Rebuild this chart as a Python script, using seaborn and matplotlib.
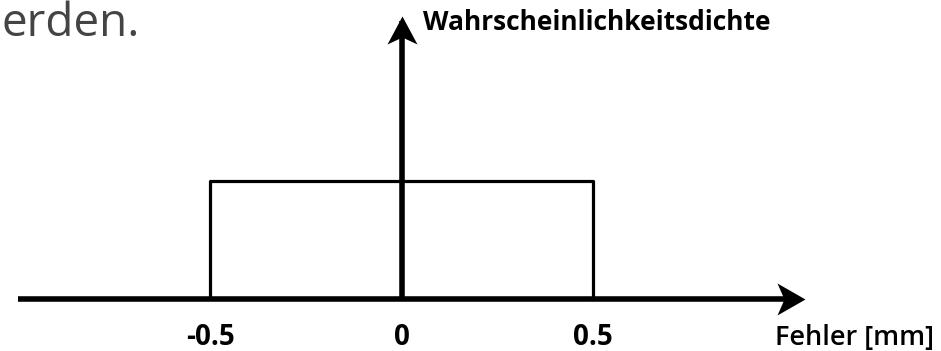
import matplotlib
matplotlib.use("Agg")
import matplotlib.pyplot as plt
import seaborn as sns
import pandas as pd
from matplotlib.path import Path

# Uniform density of the measurement error on [-0.5, 0.5] mm
edges = [-0.5, 0.5]
density = 1.0
tick_values = [-0.5, 0.0, 0.5]
tick_labels = ["-0.5", "0", "0.5"]
x_label = "Fehler [mm]"
y_label = "Wahrscheinlichkeitsdichte"
header_text = "erden."

sns.set_theme(style="white")
plt.rcParams["font.family"] = ["Open Sans", "DejaVu Sans"]

fig = plt.figure(figsize=(9.41, 3.51), dpi=100)
ax = fig.add_axes([0, 0, 1, 1])
ax.set_xlim(-1.0483, 1.4086)
ax.set_ylim(-0.4407, 2.534)
ax.axis("off")

# rectangle outline of the density function
rect = pd.DataFrame({
    "x": [edges[0], edges[0], edges[1], edges[1]],
    "y": [0, density, density, 0],
})
sns.lineplot(data=rect, x="x", y="y", sort=False, estimator=None,
             color="black", lw=2.3, ax=ax)

# coordinate axes with notched arrow heads
axis_lw = 4.0
ax.plot([-1.0, 1.02], [0, 0], color="black", lw=axis_lw,
        solid_capstyle="butt", zorder=3)
ax.plot([0, 0], [0, 2.36], color="black", lw=axis_lw,
        solid_capstyle="butt", zorder=3)

head_up = Path([(0, 0), (-15, -28), (0, -21), (15, -28), (0, 0)],
               [Path.MOVETO, Path.LINETO, Path.LINETO, Path.LINETO, Path.CLOSEPOLY])
head_right = Path([(0, 0), (-28, 16), (-21, 0), (-28, -16), (0, 0)],
                  [Path.MOVETO, Path.LINETO, Path.LINETO, Path.LINETO, Path.CLOSEPOLY])
ms = 56 * 72 / 100
ax.plot([0], [2.398], marker=head_up, markersize=ms, color="black",
        markeredgewidth=0, zorder=4)
ax.plot([1.0535], [0], marker=head_right, markersize=ms, color="black",
        markeredgewidth=0, zorder=4)

# tick labels and axis titles
for v, lab in zip(tick_values, tick_labels):
    ax.text(v, -0.33, lab, ha="center", va="center", fontsize=20,
            fontweight="bold", color="black")
ax.text(0.975, -0.33, x_label, ha="left", va="center", fontsize=19.5,
        fontweight="semibold", color="black")
ax.text(0.056, 2.347, y_label, ha="left", va="center", fontsize=19,
        fontweight="bold", color="black")

fig.text(0.002, 1 - 36 / 351, header_text, ha="left", va="baseline",
         fontsize=33, color="#444444")

fig.savefig("out.png", dpi=100)
